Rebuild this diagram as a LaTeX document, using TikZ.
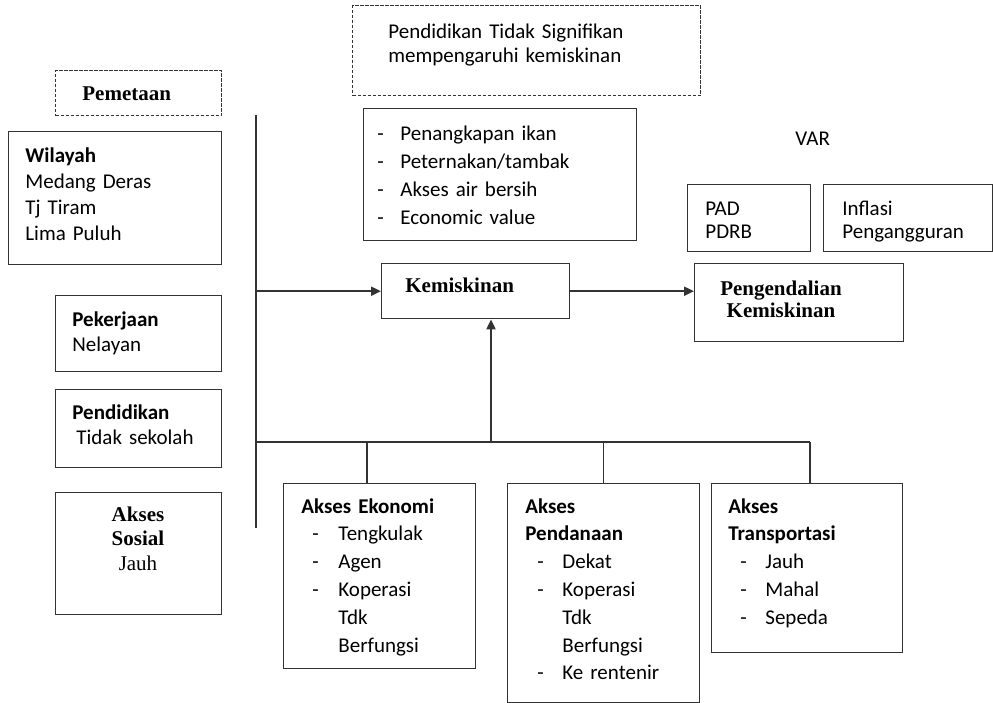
\documentclass[tikz,border=0pt]{standalone}
\usepackage{fontspec}
\setmainfont{Carlito}
\newfontfamily\titlefont{Liberation Serif}
\usetikzlibrary{arrows.meta,positioning}

% list item with a leading dash
\newcommand{\itm}[2][12.5pt]{\makebox[#1][l]{-}#2}

\begin{document}
\begin{tikzpicture}[x=0.5pt,y=-0.5pt,>={Triangle[length=5pt,width=4.5pt]},
  line/.style={draw=black!80,line width=0.7pt},
  box/.style={line,rectangle,inner sep=0pt,anchor=north west},
  dbox/.style={box,line width=0.6pt,dash pattern=on 1.6pt off 0.9pt},
  txt/.style={inner sep=0pt,anchor=base west,align=left,text width=#1},
  txt/.default=120pt,
  ttl/.style={inner sep=0pt,font=\titlefont\bfseries\fontsize{10.5}{11}\selectfont},
  conn/.style={draw=black!80,line width=1pt,->}]
  \useasboundingbox (0,0) rectangle (993,703);
  \fontsize{10.5}{14}\selectfont

  % Boxes.
  \node[dbox,minimum width=174pt,minimum height=45pt] (sig) at (352,5) {};
  \node[dbox,minimum width=83pt,minimum height=22.5pt] (pem) at (55,70) {};
  \node[box,minimum width=106.5pt,minimum height=66.5pt] (wil) at (8,131) {};
  \node[box,minimum width=83pt,minimum height=38pt] (pek) at (55,295) {};
  \node[box,minimum width=83pt,minimum height=39pt] (pend) at (55,389) {};
  \node[box,minimum width=83pt,minimum height=61pt] (sos) at (55,492) {};
  \node[box,minimum width=136.5pt,minimum height=66pt] (usaha) at (363,108) {};
  \node[box,minimum width=61.5pt,minimum height=33.5pt] (pad) at (687,184) {};
  \node[box,minimum width=84.5pt,minimum height=33.5pt] (infl) at (823,184) {};
  \node[box,minimum width=94pt,minimum height=27.5pt] (kem) at (381,263) {};
  \node[box,minimum width=104.5pt,minimum height=39pt] (peng) at (694,263) {};
  \node[box,minimum width=96pt,minimum height=92.5pt] (eko) at (283,483) {};
  \node[box,minimum width=96pt,minimum height=109.5pt] (dana) at (507,483) {};
  \node[box,minimum width=95.5pt,minimum height=84.5pt] (trans) at (711,483) {};

  % Texts.
  \node[txt=150pt,font=\fontsize{10.5}{12}\selectfont] (sigT) at (388,38)
    {Pendidikan Tidak Signifikan\\mempengaruhi kemiskinan};
  \node[ttl,anchor=base west] (pemT) at (82,100) {Pemetaan};
  \node[txt,font=\fontsize{10.5}{13}\selectfont] (wilT) at (25,162)
    {\textbf{Wilayah}\\Medang Deras\\Tj Tiram\\Lima Puluh};
  \node[txt,font=\fontsize{10.5}{12.5}\selectfont] (pekT) at (72,326)
    {\textbf{Pekerjaan}\\Nelayan};
  \node[txt,font=\fontsize{10.5}{12.5}\selectfont] (pendT) at (72,419)
    {\textbf{Pendidikan}\\\hspace*{2pt}Tidak sekolah};
  \node[ttl,anchor=base,align=center,text width=70pt,
    font=\titlefont\bfseries\fontsize{10.5}{12.3}\selectfont] (sosT) at (138,521)
    {Akses\\Sosial\\\mdseries Jauh};
  \node[txt] (usahaT) at (377,140)
    {\itm[11.5pt]{Penangkapan ikan}\\\itm[11.5pt]{Peternakan/tambak}\\
     \itm[11.5pt]{Akses air bersih}\\\itm[11.5pt]{Economic value}};
  \node[anchor=base west,inner sep=0pt] (var) at (795,145) {VAR};
  \node[txt=60pt,font=\fontsize{10.5}{11.5}\selectfont] (padT) at (705,215)
    {PAD\\PDRB};
  \node[txt=75pt,font=\fontsize{10.5}{11.5}\selectfont] (inflT) at (842,215)
    {Inflasi\\Pengangguran};
  \node[ttl,anchor=base west] (kemT) at (405,292) {Kemiskinan};
  \node[ttl,anchor=base,align=center,text width=80pt] (pengT) at (781,295)
    {Pengendalian\\Kemiskinan};
  \node[txt,font=\fontsize{10.5}{13.9}\selectfont] (ekoT) at (301,513)
    {\textbf{Akses Ekonomi}\\\hspace*{5.5pt}\itm[13pt]{Tengkulak}\\
     \hspace*{5.5pt}\itm[13pt]{Agen}\\\hspace*{5.5pt}\itm[13pt]{Koperasi}\\
     \hspace*{18.5pt}Tdk\\\hspace*{18.5pt}Berfungsi};
  \node[txt,font=\fontsize{10.5}{13.9}\selectfont] (danaT) at (525,513)
    {\textbf{Akses}\\\textbf{Pendanaan}\\\hspace*{6pt}\itm{Dekat}\\
     \hspace*{6pt}\itm{Koperasi}\\\hspace*{18.5pt}Tdk\\\hspace*{18.5pt}Berfungsi\\
     \hspace*{6pt}\itm{Ke rentenir}};
  \node[txt,font=\fontsize{10.5}{13.9}\selectfont] (transT) at (728,513)
    {\textbf{Akses}\\\textbf{Transportasi}\\\hspace*{6pt}\itm{Jauh}\\
     \hspace*{6pt}\itm{Mahal}\\\hspace*{6pt}\itm{Sepeda}};

  % Connectors.
  \coordinate (vtop) at (256,115);
  \coordinate (vbot) at (256,528);
  \coordinate (bus) at (256,442);
  \coordinate (ekoin) at ([xshift=42pt]eko.north west);
  \coordinate (transin) at ([xshift=49.5pt]trans.north west);
  \coordinate (kemin) at ([xshift=55pt]kem.south west);
  \draw[line] (vtop) -- (vbot);
  \draw[conn] (vtop |- kem.west) -- (kem.west);
  \draw[conn] (kem.east) -- (peng.west |- kem.east);
  \draw[line] (bus) -- (bus -| transin);
  \draw[line] (ekoin) -- (ekoin |- bus);
  \draw[line] (dana.north) -- (dana.north |- bus);
  \draw[line] (transin) -- (transin |- bus);
  \draw[conn] (kemin |- bus) -- (kemin);
\end{tikzpicture}
\end{document}
